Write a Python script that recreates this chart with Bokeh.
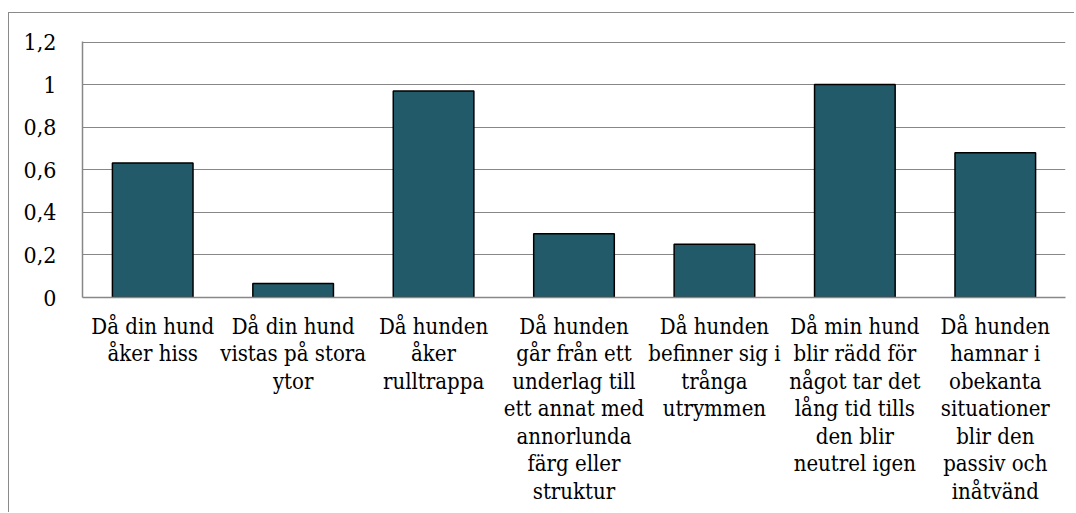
from bokeh.plotting import figure
from bokeh.models import FixedTicker, ColumnDataSource, FactorRange, Range1d
from bokeh.embed import file_html
from bokeh.resources import INLINE

categories = [
    "Då din hund\nåker hiss",
    "Då din hund\nvistas på stora\nytor",
    "Då hunden\nåker\nrulltrappa",
    "Då hunden\ngår från ett\nunderlag till\nett annat med\nannorlunda\nfärg eller\nstruktur",
    "Då hunden\nbefinner sig i\ntrånga\nutrymmen",
    "Då min hund\nblir rädd för\nnågot tar det\nlång tid tills\nden blir\nneutrel igen",
    "Då hunden\nhamnar i\nobekanta\nsituationer\nblir den\npassiv och\ninåtvänd",
]
values = [0.632, 0.066, 0.97, 0.30, 0.25, 1.0, 0.68]
y_ticks = [0, 0.2, 0.4, 0.6, 0.8, 1.0, 1.2]
y_tick_labels = ["0", "0,2", "0,4", "0,6", "0,8", "1", "1,2"]

GRID = "#878787"
FONT = "DejaVu Serif Condensed"

src = ColumnDataSource(dict(cat=categories, val=values))

p = figure(
    x_range=FactorRange(*categories, range_padding=0),
    y_range=Range1d(0, 1.2025),
    width=1066, height=500,
    output_backend="svg", toolbar_location=None,
    min_border_left=73, min_border_right=10, min_border_top=28, min_border_bottom=216,
    styles={"border-left": "1px solid #8a8a8a", "border-top": "1px solid #8a8a8a",
            "margin-top": "12px", "margin-left": "8px"},
)
p.vbar(x="cat", top="val", width=0.574, source=src,
       fill_color="#235A69", line_color="#000000", line_width=1.5)

p.outline_line_color = None
p.background_fill_color = "white"
p.border_fill_color = "white"

p.xgrid.grid_line_color = None
p.ygrid.ticker = FixedTicker(ticks=y_ticks)
p.ygrid.grid_line_color = GRID
p.ygrid.grid_line_width = 1.2

p.yaxis.ticker = FixedTicker(ticks=y_ticks)
p.yaxis.major_label_overrides = {t: l for t, l in zip(y_ticks, y_tick_labels)}
p.yaxis.major_tick_line_color = None
p.yaxis.minor_tick_line_color = None
p.yaxis.axis_line_color = GRID
p.yaxis.axis_line_width = 1.5
p.yaxis.major_label_standoff = 20
p.yaxis.major_label_text_font = FONT
p.yaxis.major_label_text_font_size = "23px"
p.yaxis.major_label_text_color = "black"

p.xaxis.major_tick_line_color = None
p.xaxis.axis_line_color = GRID
p.xaxis.axis_line_width = 1.5
p.xaxis.major_label_standoff = 10
p.xaxis.major_label_text_font = FONT
p.xaxis.major_label_text_font_size = "22px"
p.xaxis.major_label_text_line_height = 1.1
p.xaxis.major_label_text_color = "black"
p.xaxis.major_label_orientation = "horizontal"

open("out.html", "w").write(file_html(p, INLINE))
